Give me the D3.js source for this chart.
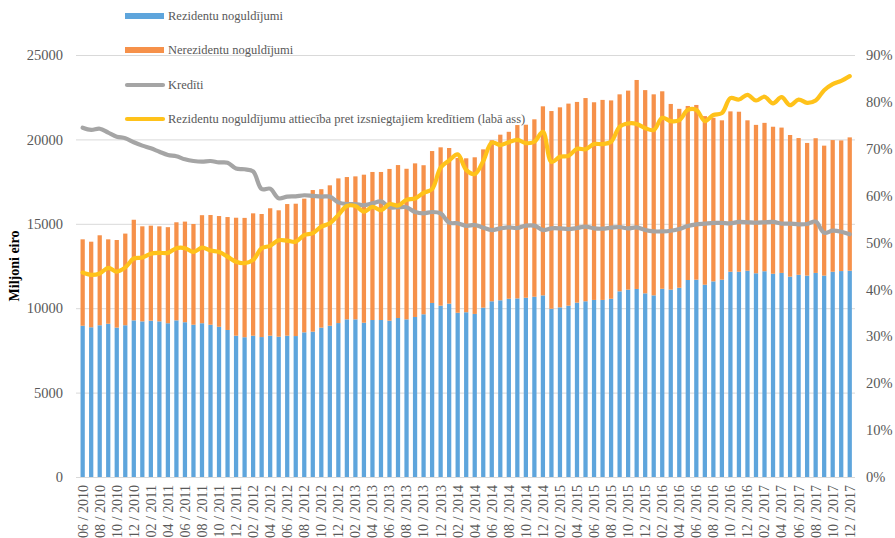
<!DOCTYPE html>
<html lang="lv">
<head>
    <meta charset="utf-8">
    <title>Noguldījumi un kredīti</title>
    <script src="https://d3js.org/d3.v7.min.js"></script>
    <style>
        body { margin: 0; background: #fff; }
        svg text { font-family: "Liberation Serif", "Times New Roman", serif; fill: #595959; }
        .grid line { stroke: #d9d9d9; stroke-width: 1; }
        .line { fill: none; stroke-linejoin: round; stroke-linecap: round; }
    </style>
</head>
<body>
    <div id="chart"></div>
    <script>
        const w = 895;
        const h = 538;

        const months = [
            "06 / 2010", "07 / 2010", "08 / 2010", "09 / 2010", "10 / 2010", "11 / 2010", "12 / 2010",
            "01 / 2011", "02 / 2011", "03 / 2011", "04 / 2011", "05 / 2011", "06 / 2011", "07 / 2011", "08 / 2011", "09 / 2011", "10 / 2011", "11 / 2011", "12 / 2011",
            "01 / 2012", "02 / 2012", "03 / 2012", "04 / 2012", "05 / 2012", "06 / 2012", "07 / 2012", "08 / 2012", "09 / 2012", "10 / 2012", "11 / 2012", "12 / 2012",
            "01 / 2013", "02 / 2013", "03 / 2013", "04 / 2013", "05 / 2013", "06 / 2013", "07 / 2013", "08 / 2013", "09 / 2013", "10 / 2013", "11 / 2013", "12 / 2013",
            "01 / 2014", "02 / 2014", "03 / 2014", "04 / 2014", "05 / 2014", "06 / 2014", "07 / 2014", "08 / 2014", "09 / 2014", "10 / 2014", "11 / 2014", "12 / 2014",
            "01 / 2015", "02 / 2015", "03 / 2015", "04 / 2015", "05 / 2015", "06 / 2015", "07 / 2015", "08 / 2015", "09 / 2015", "10 / 2015", "11 / 2015", "12 / 2015",
            "01 / 2016", "02 / 2016", "03 / 2016", "04 / 2016", "05 / 2016", "06 / 2016", "07 / 2016", "08 / 2016", "09 / 2016", "10 / 2016", "11 / 2016", "12 / 2016",
            "01 / 2017", "02 / 2017", "03 / 2017", "04 / 2017", "05 / 2017", "06 / 2017", "07 / 2017", "08 / 2017", "09 / 2017", "10 / 2017", "11 / 2017", "12 / 2017"
        ];

        // rezidentu noguldījumi, milj. eiro
        const resident = [
            8960, 8870, 8990, 9080, 8850, 8990, 9280, 9220, 9260, 9220,
            9110, 9280, 9170, 9020, 9110, 9020, 8900, 8710, 8370, 8280,
            8370, 8290, 8370, 8310, 8370, 8350, 8570, 8610, 8850, 8960,
            9120, 9340, 9340, 9140, 9300, 9300, 9260, 9420, 9340, 9480,
            9640, 10310, 10150, 10270, 9730, 9760, 9660, 10030, 10410, 10470,
            10560, 10580, 10620, 10680, 10760, 9970, 10050, 10150, 10330, 10410,
            10490, 10490, 10560, 11000, 11100, 11140, 10880, 10760, 11150, 11100,
            11210, 11670, 11690, 11390, 11590, 11690, 12160, 12160, 12220, 12070,
            12190, 12040, 12090, 11870, 11980, 11930, 12090, 11930, 12160, 12200,
            12220
        ];

        // nerezidentu noguldījumi, milj. eiro
        const nonResident = [
            5120, 5070, 5330, 5000, 5190, 5430, 5960, 5630, 5630, 5630,
            5690, 5810, 5960, 5970, 6400, 6500, 6560, 6690, 6990, 7070,
            7250, 7290, 7550, 7490, 7800, 7840, 7920, 8390, 8200, 8320,
            8570, 8430, 8470, 8770, 8770, 8770, 8990, 9060, 8920, 9100,
            8830, 9000, 9380, 9220, 9170, 9120, 9280, 9380, 9540, 9810,
            9890, 10270, 10250, 10510, 11200, 11710, 11850, 11970, 11890, 12040,
            11710, 11850, 11750, 11670, 11790, 12380, 12040, 11910, 11700, 11000,
            10600, 10310, 10350, 9990, 9690, 9440, 9500, 9480, 8910, 8790,
            8790, 8710, 8610, 8390, 8100, 7860, 7980, 7700, 7800, 7740,
            7900
        ];

        // kredīti, milj. eiro
        const credits = [
            20690, 20560, 20630, 20400, 20160, 20070, 19830, 19630, 19470, 19270,
            19080, 19000, 18820, 18720, 18680, 18720, 18640, 18620, 18270, 18230,
            18100, 17060, 17080, 16510, 16610, 16630, 16690, 16650, 16610, 16610,
            16270, 16170, 16170, 16100, 16210, 16330, 15980, 15980, 15980, 15700,
            15620, 15700, 15620, 15070, 15030, 14880, 14930, 14770, 14630, 14730,
            14790, 14750, 14890, 14890, 14630, 14730, 14730, 14690, 14750, 14830,
            14730, 14710, 14770, 14810, 14730, 14790, 14630, 14550, 14550, 14590,
            14690, 14870, 14970, 15010, 15050, 15050, 15030, 15110, 15090, 15070,
            15090, 15110, 15010, 15010, 14970, 14990, 15130, 14470, 14590, 14530,
            14380
        ];

        // rezidentu noguldījumu attiecība pret kredītiem, %
        const ratio = [
            43.6, 43.1, 43.4, 44.6, 43.8, 44.7, 46.6, 46.8, 47.6, 47.8,
            47.8, 48.8, 48.8, 48.0, 48.9, 48.3, 48.0, 47.0, 45.9, 45.6,
            46.3, 48.8, 49.3, 50.5, 50.4, 50.2, 51.6, 52.0, 53.4, 54.1,
            55.9, 57.8, 57.8, 56.6, 57.6, 56.9, 58.2, 57.9, 59.1, 59.4,
            60.6, 61.4, 66.0, 67.5, 68.8, 65.5, 64.6, 67.4, 71.3, 70.8,
            71.4, 71.9, 71.2, 71.5, 73.6, 67.2, 68.3, 68.5, 70.0, 69.9,
            71.0, 71.0, 71.5, 74.7, 75.4, 75.3, 74.4, 74.0, 76.6, 75.9,
            76.1, 78.3, 78.3, 75.9, 77.2, 77.6, 80.8, 80.5, 81.5, 80.3,
            81.1, 79.7, 81.0, 79.3, 80.5, 79.8, 80.3, 82.5, 83.8, 84.5,
            85.5
        ];

        const leftTicks = [0, 5000, 10000, 15000, 20000, 25000];
        const rightTicks = [0, 10, 20, 30, 40, 50, 60, 70, 80, 90];
        const xTicks = months.filter((m, i) => i % 2 == 0);

        const seriesNames = [
            "Rezidentu noguldījumi",
            "Nerezidentu noguldījumi",
            "Kredīti",
            "Rezidentu noguldījumu attiecība pret izsniegtajiem kredītiem (labā ass)"
        ];
        const colors = ["#5ea5dc", "#f6914a", "#a5a5a5", "#ffc21a"];

        const plotLeft = 76, plotRight = 855, plotTop = 55, plotBottom = 477;

        const svg = d3.select("#chart")
            .append("svg")
            .attr("width", w)
            .attr("height", h);

        const xScale = d3.scaleBand()
            .domain(months)
            .range([78.4, 854])
            .paddingInner(0.5)
            .paddingOuter(0.25);

        const yScale = d3.scaleLinear()
            .domain([0, 25000])
            .range([plotBottom, plotTop]);

        const yScale2 = d3.scaleLinear()
            .domain([0, 90])
            .range([plotBottom, plotTop]);

        // gridlines + left axis
        const yAxis = d3.axisLeft(yScale)
            .tickValues(leftTicks)
            .tickSize(-(plotRight - plotLeft))
            .tickPadding(13)
            .tickFormat(d3.format("d"));

        svg.append("g")
            .attr("class", "grid")
            .attr("transform", `translate(${plotLeft}, 0)`)
            .call(yAxis)
            .call(g => g.select(".domain").remove())
            .selectAll("text")
            .style("font-size", "14.5px");

        const yAxis2 = d3.axisRight(yScale2)
            .tickValues(rightTicks)
            .tickSize(0)
            .tickPadding(11)
            .tickFormat(d => d + "%");

        svg.append("g")
            .attr("transform", `translate(${plotRight}, 0)`)
            .call(yAxis2)
            .call(g => g.select(".domain").remove())
            .selectAll("text")
            .style("font-size", "14.5px");

        const xAxis = d3.axisBottom(xScale)
            .tickValues(xTicks)
            .tickSize(0);

        svg.append("g")
            .attr("transform", `translate(0, ${plotBottom})`)
            .call(xAxis)
            .call(g => g.select(".domain").remove())
            .selectAll("text")
            .attr("transform", "rotate(-90)")
            .attr("x", -8)
            .attr("y", 0)
            .attr("dy", "0.35em")
            .style("text-anchor", "end")
            .style("font-size", "14px");

        // stacked bars
        const rows = months.map((m, i) => ({ month: m, res: resident[i], non: nonResident[i] }));

        svg.append("g").selectAll("rect.res")
            .data(rows)
            .enter()
            .append("rect")
            .attr("class", "res")
            .attr("x", d => xScale(d.month))
            .attr("width", xScale.bandwidth())
            .attr("y", d => yScale(d.res))
            .attr("height", d => yScale(0) - yScale(d.res))
            .attr("fill", colors[0]);

        svg.append("g").selectAll("rect.non")
            .data(rows)
            .enter()
            .append("rect")
            .attr("class", "non")
            .attr("x", d => xScale(d.month))
            .attr("width", xScale.bandwidth())
            .attr("y", d => yScale(d.res + d.non))
            .attr("height", d => yScale(d.res) - yScale(d.res + d.non))
            .attr("fill", colors[1]);

        // lines
        const cx = i => xScale(months[i]) + xScale.bandwidth() / 2;

        const creditLine = d3.line()
            .x((d, i) => cx(i))
            .y(d => yScale(d))
            .curve(d3.curveCatmullRom.alpha(0.5));

        const ratioLine = d3.line()
            .x((d, i) => cx(i))
            .y(d => yScale2(d))
            .curve(d3.curveCatmullRom.alpha(0.5));

        svg.append("path")
            .datum(credits)
            .attr("class", "line")
            .attr("stroke", colors[2])
            .attr("stroke-width", 4.2)
            .attr("d", creditLine);

        svg.append("path")
            .datum(ratio)
            .attr("class", "line")
            .attr("stroke", colors[3])
            .attr("stroke-width", 4.2)
            .attr("d", ratioLine);

        // y title
        svg.append("text")
            .attr("transform", "translate(19, 266) rotate(-90)")
            .style("text-anchor", "middle")
            .style("font-size", "14px")
            .style("font-weight", "bold")
            .style("fill", "#000")
            .text("Miljoni eiro");

        // legend
        const legend = svg.append("g").attr("transform", "translate(125, 0)");
        const legendY = [16, 50, 85, 119];

        seriesNames.forEach((name, i) => {
            const g = legend.append("g").attr("transform", `translate(0, ${legendY[i]})`);
            if (i < 2) {
                g.append("rect")
                    .attr("x", 0)
                    .attr("y", -3)
                    .attr("width", 39)
                    .attr("height", 6)
                    .attr("fill", colors[i]);
            } else {
                g.append("line")
                    .attr("x1", 2)
                    .attr("x2", 38)
                    .attr("y1", 0)
                    .attr("y2", 0)
                    .attr("stroke", colors[i])
                    .attr("stroke-width", 4.2)
                    .attr("stroke-linecap", "round");
            }
            g.append("text")
                .attr("x", 43)
                .attr("y", 0)
                .attr("dy", "0.35em")
                .style("font-size", "12.5px")
                .text(name);
        });
    </script>
</body>
</html>
